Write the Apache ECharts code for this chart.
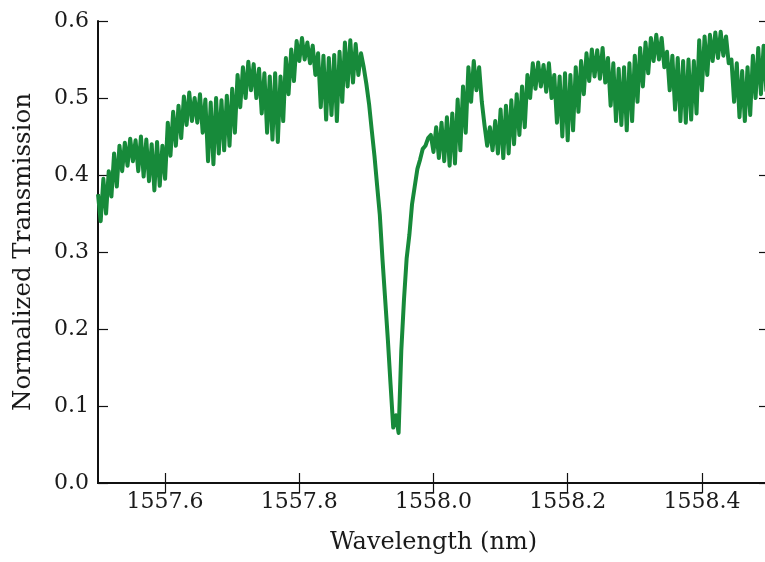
<!DOCTYPE html>
<html>
<head>
<meta charset="utf-8">
<script src="https://cdn.jsdelivr.net/npm/echarts@6/dist/echarts.min.js"></script>
<style>
html,body{margin:0;padding:0;background:#fff;overflow:hidden;}
#chart{width:765px;height:562px;}
</style>
</head>
<body>
<div id="chart"></div>
<script>
// Sampling grid of the measured spectrum (nm)
var WL_START = 1557.5;
var WL_STEP = 0.004;
// Normalized transmission
var transmission = [
  0.375,0.340,0.395,0.350,0.405,0.372,0.428,0.385,0.438,0.405,
  0.442,0.412,0.447,0.418,0.445,0.405,0.450,0.398,0.446,0.392,
  0.440,0.380,0.443,0.386,0.438,0.395,0.468,0.425,0.482,0.438,
  0.490,0.448,0.502,0.465,0.507,0.470,0.500,0.468,0.505,0.455,
  0.498,0.418,0.494,0.414,0.500,0.428,0.497,0.432,0.503,0.438,
  0.512,0.455,0.530,0.488,0.540,0.500,0.547,0.510,0.544,0.500,
  0.538,0.480,0.532,0.455,0.528,0.446,0.532,0.443,0.528,0.470,
  0.552,0.505,0.563,0.522,0.574,0.548,0.578,0.550,0.572,0.545,
  0.568,0.530,0.558,0.488,0.555,0.472,0.552,0.478,0.556,0.470,
  0.560,0.495,0.572,0.515,0.575,0.520,0.570,0.530,0.558,0.540,
  0.518,0.492,0.458,0.425,0.386,0.348,0.290,0.238,0.186,0.128,
  0.072,0.088,0.065,0.172,0.238,0.292,0.322,0.362,0.385,0.408,
  0.420,0.434,0.438,0.448,0.452,0.430,0.462,0.422,0.468,0.418,
  0.475,0.412,0.480,0.415,0.498,0.432,0.515,0.455,0.540,0.495,
  0.548,0.510,0.540,0.495,0.465,0.438,0.462,0.432,0.470,0.428,
  0.485,0.422,0.490,0.428,0.497,0.440,0.505,0.452,0.515,0.462,
  0.530,0.500,0.545,0.512,0.546,0.515,0.543,0.508,0.545,0.500,
  0.530,0.468,0.528,0.450,0.532,0.445,0.530,0.458,0.540,0.482,
  0.548,0.505,0.558,0.522,0.563,0.528,0.562,0.525,0.565,0.520,
  0.552,0.490,0.545,0.470,0.538,0.465,0.540,0.458,0.545,0.470,
  0.555,0.495,0.565,0.515,0.572,0.532,0.578,0.548,0.582,0.550,
  0.578,0.540,0.560,0.510,0.555,0.485,0.552,0.470,0.548,0.468,
  0.550,0.472,0.548,0.480,0.575,0.510,0.580,0.530,0.582,0.548,
  0.585,0.552,0.586,0.555,0.580,0.545,0.550,0.495,0.545,0.475,
  0.535,0.470,0.540,0.478,0.555,0.500,0.565,0.505,0.568,0.510,
  0.570
];
var xTicks = [1557.6, 1557.8, 1558.0, 1558.2, 1558.4];
var xRange = [1557.5, 1558.5];
var yRange = [0, 0.6];
var yStep = 0.1;
var xTitle = 'Wavelength (nm)';
var yTitle = 'Normalized Transmission';

var data = transmission.map(function (v, i) {
  return [+(WL_START + i * WL_STEP).toFixed(4), v];
});

var FONT = 'DejaVu Serif';
var TXT = '#1a1a1a';
var axisLine = { show: true, lineStyle: { color: '#111', width: 2 } };
var tickStyle = { color: '#111', width: 1.2 };

var chart = echarts.init(document.getElementById('chart'), null, { renderer: 'canvas' });
chart.setOption({
  animation: false,
  backgroundColor: '#fff',
  grid: { left: 98, top: 21, width: 671, height: 462, containLabel: false, outerBoundsMode: 'none' },
  xAxis: [{
    type: 'value', position: 'bottom', min: xRange[0], max: xRange[1],
    axisLine: axisLine,
    axisTick: { show: true, inside: true, length: 10, customValues: xTicks, lineStyle: tickStyle },
    axisLabel: { show: true, customValues: xTicks, margin: 8, fontFamily: FONT, fontSize: 22, color: TXT,
      formatter: function (v) { return v.toFixed(1); } },
    splitLine: { show: false },
    name: xTitle, nameLocation: 'middle', nameGap: 48,
    nameTextStyle: { fontFamily: FONT, fontSize: 24, color: TXT }
  }, {
    type: 'value', position: 'top', min: xRange[0], max: xRange[1],
    axisLine: axisLine,
    axisTick: { show: true, inside: true, length: 10, customValues: xTicks, lineStyle: tickStyle },
    axisLabel: { show: false },
    splitLine: { show: false }
  }],
  yAxis: [{
    type: 'value', position: 'left', min: yRange[0], max: yRange[1], interval: yStep,
    axisLine: axisLine,
    axisTick: { show: true, inside: true, length: 10, lineStyle: tickStyle },
    axisLabel: { show: true, margin: 9, fontFamily: FONT, fontSize: 22, color: TXT,
      formatter: function (v) { return v.toFixed(1); } },
    splitLine: { show: false },
    name: yTitle, nameLocation: 'middle', nameGap: 62,
    nameTextStyle: { fontFamily: FONT, fontSize: 24.5, color: TXT }
  }, {
    type: 'value', position: 'right', min: yRange[0], max: yRange[1], interval: yStep,
    axisLine: axisLine,
    axisTick: { show: true, inside: true, length: 10, lineStyle: tickStyle },
    axisLabel: { show: false },
    splitLine: { show: false }
  }],
  series: [{
    type: 'line',
    xAxisIndex: 0, yAxisIndex: 0,
    data: data,
    showSymbol: false,
    sampling: null,
    clip: true,
    lineStyle: { color: '#178a3a', width: 4, join: 'round' },
    emphasis: { disabled: true }
  }]
});
</script>
</body>
</html>
